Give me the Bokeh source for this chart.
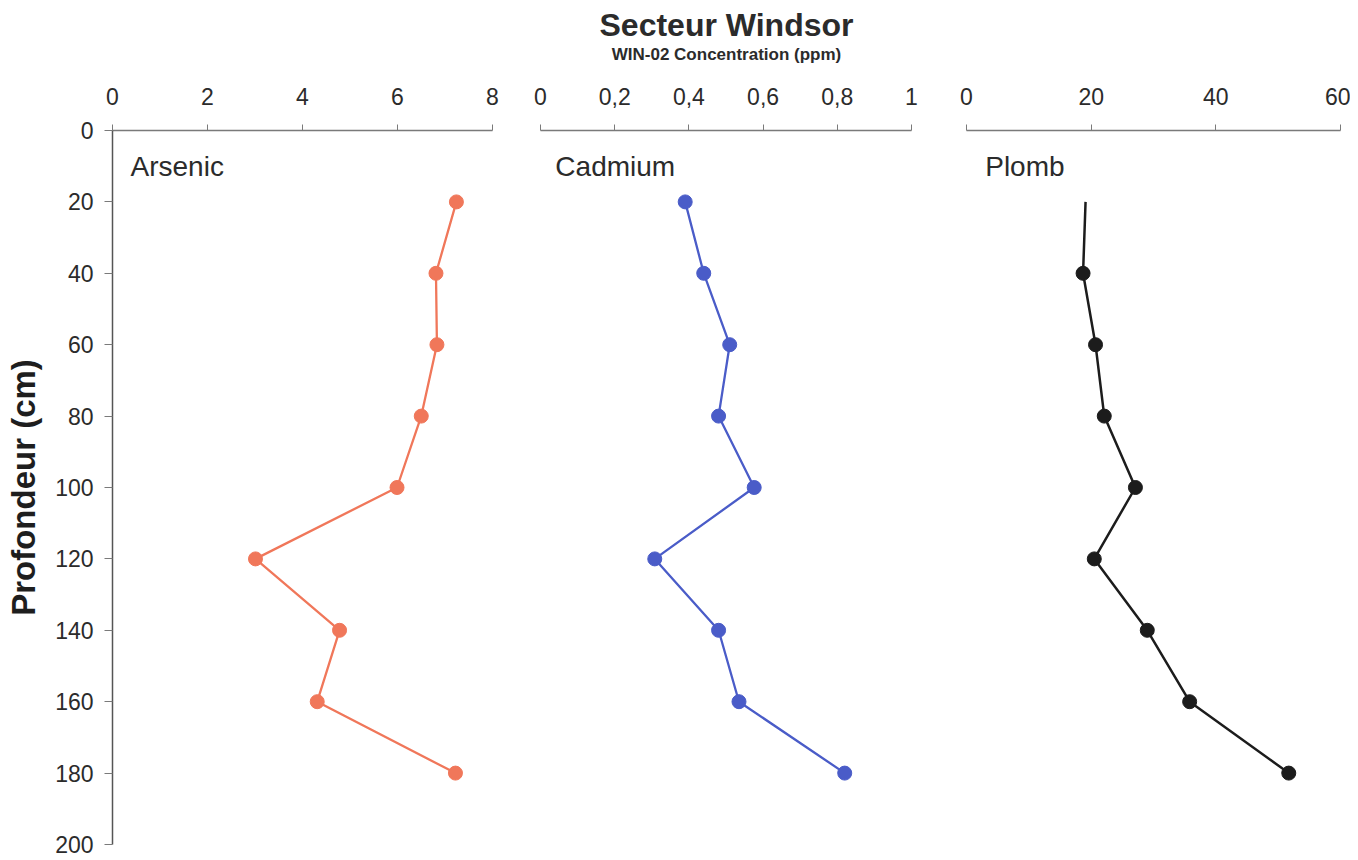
from bokeh.plotting import figure
from bokeh.layouts import column, row
from bokeh.models import Range1d, FixedTicker, Label
from bokeh.embed import file_html
from bokeh.resources import INLINE
from bokeh.core.properties import value

# ---- data ----
depth = [20, 40, 60, 80, 100, 120, 140, 160, 180]
arsenic = [7.24, 6.81, 6.83, 6.5, 5.99, 3.01, 4.78, 4.31, 7.22]
cadmium = [0.39, 0.44, 0.51, 0.48, 0.576, 0.308, 0.48, 0.535, 0.82]
plomb = [19.1, 18.7, 20.7, 22.1, 27.1, 20.5, 29.0, 35.8, 51.7]

depth_ticks = [0, 20, 40, 60, 80, 100, 120, 140, 160, 180, 200]
as_ticks = [0, 2, 4, 6, 8]
cd_ticks = [0, 0.2, 0.4, 0.6, 0.8, 1]
cd_tick_labels = ["0", "0,2", "0,4", "0,6", "0,8", "1"]
pb_ticks = [0, 20, 40, 60]

title_text = "Secteur Windsor"
subtitle_text = "WIN-02 Concentration (ppm)"
ylabel_text = "Profondeur (cm)"

FONT = "Liberation Sans"
TXT = "#2b2b2b"
AXC = "#7a7a7a"

HEADER_H = 66
FRAME_H = 714
TOP_B = 64
BOT_B = 14

# ---- header ----
header = figure(width=1350, height=HEADER_H, x_range=Range1d(0, 1350),
                y_range=Range1d(HEADER_H, 0), toolbar_location=None,
                output_backend="svg", min_border=0, outline_line_color=None,
                x_axis_location=None, y_axis_location=None)
header.grid.visible = False
header.text(x=[726], y=[24], text=[title_text], text_font=value(FONT),
            text_font_size="32px", text_font_style="bold", text_color=TXT,
            text_align="center", text_baseline="middle")
header.text(x=[726], y=[54], text=[subtitle_text], text_font=value(FONT),
            text_font_size="17px", text_font_style="bold", text_color=TXT,
            text_align="center", text_baseline="middle")


def make_panel(xr, ticks, fw, bl, br, left_axis):
    p = figure(frame_width=fw, frame_height=FRAME_H, x_range=xr,
               y_range=Range1d(200, 0), toolbar_location=None,
               output_backend="svg", x_axis_location="above",
               y_axis_location="left" if left_axis else None,
               min_border_left=bl, min_border_right=br,
               min_border_top=TOP_B, min_border_bottom=BOT_B,
               outline_line_color=None)
    p.grid.visible = False
    xa = p.xaxis[0]
    xa.ticker = FixedTicker(ticks=ticks)
    xa.axis_line_color = AXC
    xa.axis_line_width = 1.5
    xa.major_tick_line_color = AXC
    xa.major_tick_out = 6
    xa.major_tick_in = 0
    xa.minor_tick_out = 0
    xa.minor_tick_in = 0
    xa.major_label_standoff = 20
    xa.major_label_text_font = FONT
    xa.major_label_text_font_size = "23px"
    xa.major_label_text_color = TXT
    if left_axis:
        ya = p.yaxis[0]
        ya.ticker = FixedTicker(ticks=depth_ticks)
        ya.axis_line_color = "#555555"
        ya.axis_line_width = 1.5
        ya.major_tick_line_color = AXC
        ya.major_tick_out = 8
        ya.major_tick_in = 0
        ya.minor_tick_out = 0
        ya.minor_tick_in = 0
        ya.major_label_standoff = 11
        ya.major_label_text_font = FONT
        ya.major_label_text_font_size = "23px"
        ya.major_label_text_color = TXT
        ya.axis_label = ylabel_text
        ya.axis_label_text_font = FONT
        ya.axis_label_text_font_size = "33px"
        ya.axis_label_text_font_style = "bold"
        ya.axis_label_text_color = "#1e1e1e"
        ya.axis_label_standoff = 10
    return p


p1 = make_panel(Range1d(0, 8), as_ticks, 380, 112, 24, True)
p2 = make_panel(Range1d(0, 1), cd_ticks, 371, 24, 27, False)
p2.xaxis[0].major_label_overrides = {t: l for t, l in zip(cd_ticks, cd_tick_labels)}
p3 = make_panel(Range1d(0, 60), pb_ticks, 374, 28, 10, False)

as_col = "#F0775A"
cd_col = "#4A5CC8"
pb_col = "#1c1c1c"

p1.line(arsenic, depth, line_color=as_col, line_width=2.3)
p1.scatter(arsenic, depth, size=14, fill_color=as_col, line_color=as_col)
p2.line(cadmium, depth, line_color=cd_col, line_width=2.3)
p2.scatter(cadmium, depth, size=14, fill_color=cd_col, line_color=cd_col)
p3.line(plomb, depth, line_color=pb_col, line_width=2.5)
p3.scatter(plomb[1:], depth[1:], size=14, fill_color=pb_col, line_color=pb_col)

for p, name, x in ((p1, "Arsenic", 0.38), (p2, "Cadmium", 0.04), (p3, "Plomb", 3.0)):
    p.add_layout(Label(x=x, y=10, text=name, text_font=FONT, text_font_size="28px",
                       text_color=TXT, text_baseline="middle", text_align="left"))

layout = column(header, row(p1, p2, p3))
open("out.html", "w").write(file_html(layout, INLINE))
